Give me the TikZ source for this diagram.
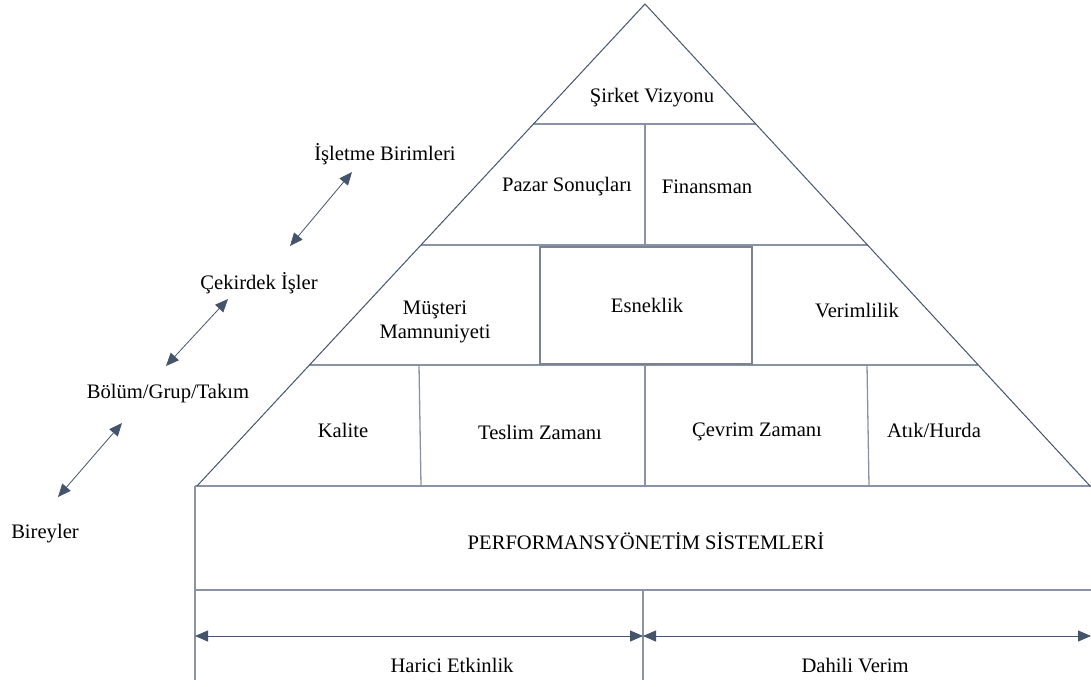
\documentclass[tikz,border=0pt]{standalone}
\usepackage{fontspec}
\setmainfont{Liberation Serif}
\usetikzlibrary{arrows.meta,calc}
\definecolor{navy}{HTML}{44546A}
\definecolor{linegray}{HTML}{8A93A6}
\definecolor{boxgray}{HTML}{7A8294}
\begin{document}
\begin{tikzpicture}[x=1pt,y=-1pt,
  lbl/.style={font=\fontsize{20.6}{24}\selectfont, text=black, inner sep=0pt, align=center},
  edge/.style={draw=navy, line width=1pt},
  inner/.style={draw=linegray, line width=1.3pt},
  dbl/.style={navy, line width=0.8pt, {Triangle[length=13pt,width=11pt]}-{Triangle[length=13pt,width=11pt]}}]
\useasboundingbox (0,0) rectangle (1091,686);
% triangle corners
\coordinate (apex) at (645,4);
\coordinate (bl) at (197,486);
\coordinate (br) at (1090,486);
\coordinate (l1) at ($(apex)!0.249!(bl)$);
\coordinate (r1) at ($(apex)!0.249!(br)$);
\coordinate (l2) at ($(apex)!0.5!(bl)$);
\coordinate (r2) at ($(apex)!0.5!(br)$);
\coordinate (l3) at ($(apex)!0.749!(bl)$);
\coordinate (r3) at ($(apex)!0.749!(br)$);
% horizontal rows
\draw[inner] (l1) -- (r1);
\draw[inner] (l2) -- (r2);
\draw[inner] (l3) -- (r3);
% verticals
\draw[inner] (645,124) -- (645,245);
\draw[inner] (419,365) -- (421,486);
\draw[inner] (645,365) -- (645,486);
\draw[inner] (867,365) -- (869,486);
% esneklik box
\node[draw=boxgray, line width=1.3pt, fill=white, minimum width=212pt, minimum height=117pt, inner sep=0pt] (esn) at (646,305.5) {};
% base rectangle
\coordinate (rl) at (195,486);
\coordinate (rr) at (1091,486);
\coordinate (rbl) at (195,590);
\coordinate (rbr) at (1091,590);
\coordinate (vb) at (195,680);
\coordinate (mt) at (643,590);
\coordinate (mb) at (643,680);
\draw[inner] (rl) -- (rr);
\draw[inner] (rbl) -- (rbr);
\draw[inner] (rl) -- (vb);
\draw[inner] (mt) -- (mb);
% triangle edges
\draw[edge] (bl) -- (apex) -- (br);
% bottom arrows
\coordinate (al) at (195,636);
\coordinate (am) at (643,636);
\coordinate (ar) at (1091,636);
\draw[dbl] (al) -- (am);
\draw[dbl] (am) -- (ar);
% texts
\node[lbl] (vizyon) at (652,98) {Şirket Vizyonu};
\node[lbl] (pazar) at (567,187) {Pazar Sonuçları};
\node[lbl] (finans) at (707,187) {Finansman};
\node[lbl] (musteri) at (435,322) {Müşteri\\Mamnuniyeti};
\node[lbl] (esntext) at (647,305) {Esneklik};
\node[lbl] (verim) at (857,311) {Verimlilik};
\node[lbl] (kalite) at (343,430) {Kalite};
\node[lbl] (teslim) at (540,432) {Teslim Zamanı};
\node[lbl] (cevrim) at (757,432) {Çevrim Zamanı};
\node[lbl] (atik) at (934,430) {Atık/Hurda};
\node[lbl] (pys) at (646,541) {PERFORMANSYÖNETİM SİSTEMLERİ};
\node[lbl] (harici) at (452,665) {Harici Etkinlik};
\node[lbl] (dahili) at (855,665) {Dahili Verim};
% left labels
\node[lbl] (isletme) at (385,154) {İşletme Birimleri};
\node[lbl] (cekirdek) at (259,283) {Çekirdek İşler};
\node[lbl] (bolum) at (168,394) {Bölüm/Grup/Takım};
\node[lbl] (birey) at (45,534) {Bireyler};
% left arrows
\coordinate (a1s) at (352,172);
\coordinate (a1e) at (290,246);
\coordinate (a2s) at (228,299);
\coordinate (a2e) at (166,366);
\coordinate (a3s) at (122,423);
\coordinate (a3e) at (58,497);
\draw[dbl] (a1s) -- (a1e);
\draw[dbl] (a2s) -- (a2e);
\draw[dbl] (a3s) -- (a3e);
\end{tikzpicture}
\end{document}
